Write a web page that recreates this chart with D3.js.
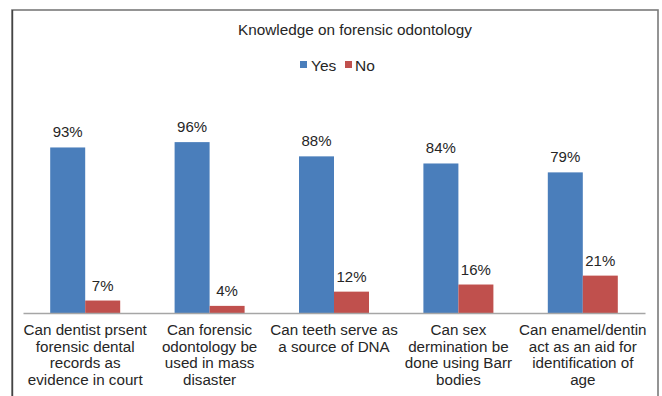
<!DOCTYPE html>
<html>
<head>
<meta charset="utf-8">
<script src="https://cdn.jsdelivr.net/npm/d3@7/dist/d3.min.js"></script>
<style>
  html, body { margin: 0; padding: 0; background: #fff; }
  svg { display: block; font-family: "Liberation Sans", Arial, sans-serif; }
</style>
</head>
<body>
<svg id="chart" width="662" height="396"></svg>
<script>
// Survey questions (one entry per group, "\n" marks a line break)
const categories = [
  "Can dentist prsent\nforensic dental\nrecords as\nevidence in court",
  "Can forensic\nodontology be\nused in mass\ndisaster",
  "Can teeth serve as\na source of DNA",
  "Can sex\ndermination be\ndone using Barr\nbodies",
  "Can enamel/dentin\nact as an aid for\nidentification of\nage"
];
const seriesNames = ["Yes", "No"];
const yesValues = [0.93, 0.96, 0.88, 0.84, 0.79];
const noValues = [0.07, 0.04, 0.12, 0.16, 0.21];
const seriesColors = ["#4a7ebb", "#c0504d"];
const titleText = "Knowledge on forensic odontology";

const svg = d3.select("#chart");
const textColor = "#262626";

// Outer chart frame
svg.append("rect")
  .attr("x", 12).attr("y", 10)
  .attr("width", 646).attr("height", 400)
  .attr("fill", "none")
  .attr("stroke", "#7a7a7a")
  .attr("stroke-width", 1.6);
svg.append("line")
  .attr("x1", 12.5).attr("x2", 12.5)
  .attr("y1", 10).attr("y2", 396)
  .attr("stroke", "#444")
  .attr("stroke-width", 1.4);

// Title
svg.append("text")
  .attr("x", 355).attr("y", 34.5)
  .attr("text-anchor", "middle")
  .attr("font-size", 15.3)
  .attr("fill", textColor)
  .text(titleText);

// Scales
const x0 = d3.scaleBand().domain(categories).range([23, 645]).padding(0);
const barW = 35;
const x1 = d3.scaleBand().domain(seriesNames)
  .range([x0.bandwidth() / 2 - barW, x0.bandwidth() / 2 + barW]).padding(0);
const y = d3.scaleLinear().domain([0, 1]).range([313, 135]);
const color = d3.scaleOrdinal().domain(seriesNames).range(seriesColors);

// Legend
const legend = svg.append("g");
const legendItems = [
  { name: seriesNames[0], sx: 300, tx: 311 },
  { name: seriesNames[1], sx: 345, tx: 355 }
];
legendItems.forEach(d => {
  legend.append("rect")
    .attr("x", d.sx).attr("y", 61)
    .attr("width", 7).attr("height", 7)
    .attr("fill", color(d.name));
  legend.append("text")
    .attr("x", d.tx).attr("y", 70.5)
    .attr("font-size", 15.5)
    .attr("fill", textColor)
    .text(d.name);
});

// Bars
const rows = categories.map((c, i) => ({
  cat: c,
  vals: [
    { key: seriesNames[0], v: yesValues[i] },
    { key: seriesNames[1], v: noValues[i] }
  ]
}));

const groups = svg.append("g").selectAll("g")
  .data(rows).join("g")
  .attr("transform", d => `translate(${x0(d.cat)},0)`);

groups.selectAll("rect")
  .data(d => d.vals).join("rect")
  .attr("x", d => x1(d.key))
  .attr("y", d => y(d.v))
  .attr("width", x1.bandwidth())
  .attr("height", d => y(0) - y(d.v))
  .attr("fill", d => color(d.key));

// Value labels
groups.selectAll("text.val")
  .data(d => d.vals).join("text")
  .attr("class", "val")
  .attr("x", d => x1(d.key) + x1.bandwidth() / 2)
  .attr("y", d => y(d.v) - 10)
  .attr("text-anchor", "middle")
  .attr("font-size", 15)
  .attr("fill", textColor)
  .text(d => d3.format(".0%")(d.v));

// Category axis
const xAxis = svg.append("g")
  .attr("transform", `translate(0,${y(0)})`)
  .call(d3.axisBottom(x0).tickSize(0).tickFormat(""));
xAxis.select(".domain").attr("stroke", "#a6a6a6").attr("stroke-width", 1.5);

// Multi-line category labels
svg.append("g").selectAll("text")
  .data(categories).join("text")
  .attr("x", d => x0(d) + x0.bandwidth() / 2)
  .attr("y", 335)
  .attr("text-anchor", "middle")
  .attr("font-size", 15.2)
  .attr("fill", textColor)
  .selectAll("tspan")
  .data(d => d.split("\n")).join("tspan")
  .attr("x", function () { return d3.select(this.parentNode).attr("x"); })
  .attr("dy", (d, i) => i === 0 ? 0 : 16.5)
  .text(d => d);
</script>
</body>
</html>
